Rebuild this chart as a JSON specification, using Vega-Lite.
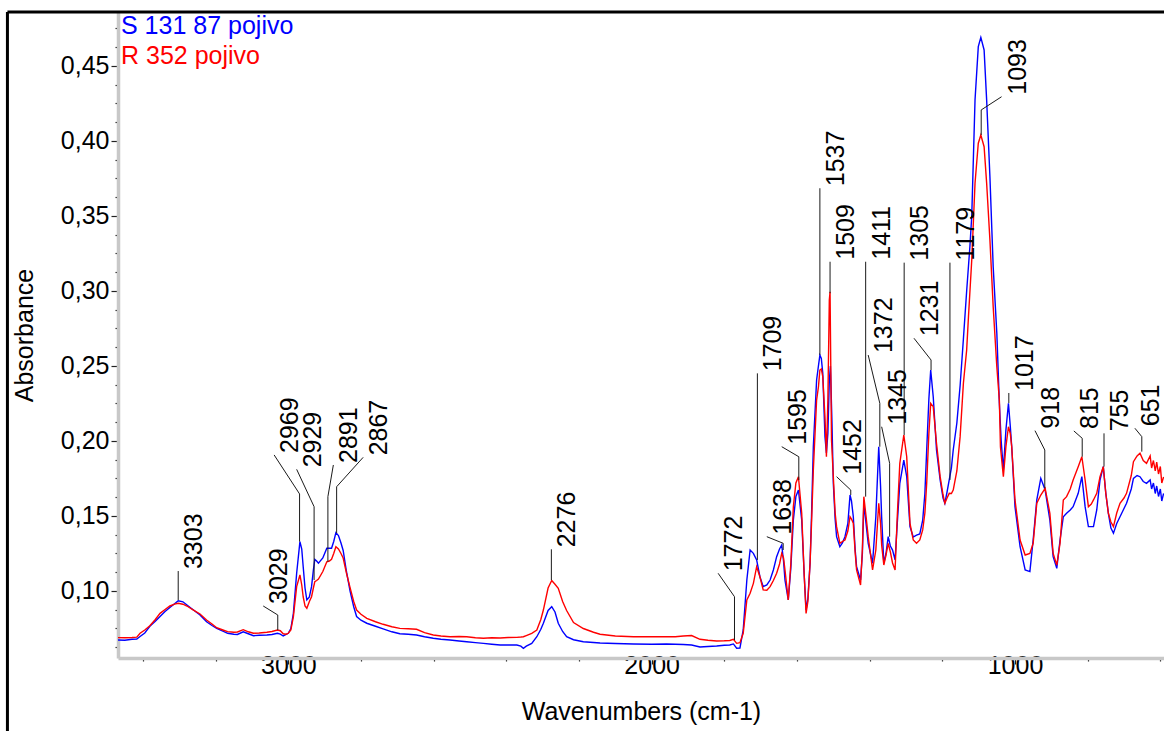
{
"$schema": "https://vega.github.io/schema/vega-lite/v6.json",
"width": 1046, "height": 646,
"autosize": {"type": "none"},
"padding": {"left": 118, "top": 12, "right": 0, "bottom": 73},
"background": "white",
"config": {"view": {"stroke": null}, "font": "Liberation Sans"},
"datasets": {
"blue": [
{"series":"S 131 87 pojivo","wn":3469,"abs":0.0673},{"series":"S 131 87 pojivo","wn":3450,"abs":0.0672},{"series":"S 131 87 pojivo","wn":3430,"abs":0.0678},{"series":"S 131 87 pojivo","wn":3417,"abs":0.068},{"series":"S 131 87 pojivo","wn":3408,"abs":0.0697},{"series":"S 131 87 pojivo","wn":3395,"abs":0.072},{"series":"S 131 87 pojivo","wn":3381,"abs":0.0765},{"series":"S 131 87 pojivo","wn":3366,"abs":0.0798},{"series":"S 131 87 pojivo","wn":3353,"abs":0.083},{"series":"S 131 87 pojivo","wn":3340,"abs":0.0862},{"series":"S 131 87 pojivo","wn":3326,"abs":0.089},{"series":"S 131 87 pojivo","wn":3313,"abs":0.0915},{"series":"S 131 87 pojivo","wn":3303,"abs":0.0935},{"series":"S 131 87 pojivo","wn":3290,"abs":0.0928},{"series":"S 131 87 pojivo","wn":3279,"abs":0.0907},{"series":"S 131 87 pojivo","wn":3261,"abs":0.0873},{"series":"S 131 87 pojivo","wn":3243,"abs":0.084},{"series":"S 131 87 pojivo","wn":3225,"abs":0.0795},{"series":"S 131 87 pojivo","wn":3210,"abs":0.077},{"series":"S 131 87 pojivo","wn":3197,"abs":0.0751},{"series":"S 131 87 pojivo","wn":3180,"abs":0.0732},{"series":"S 131 87 pojivo","wn":3167,"abs":0.0718},{"series":"S 131 87 pojivo","wn":3150,"abs":0.0712},{"series":"S 131 87 pojivo","wn":3140,"abs":0.071},{"series":"S 131 87 pojivo","wn":3124,"abs":0.0728},{"series":"S 131 87 pojivo","wn":3110,"abs":0.0715},{"series":"S 131 87 pojivo","wn":3096,"abs":0.0702},{"series":"S 131 87 pojivo","wn":3080,"abs":0.0705},{"series":"S 131 87 pojivo","wn":3059,"abs":0.0707},{"series":"S 131 87 pojivo","wn":3045,"abs":0.071},{"series":"S 131 87 pojivo","wn":3030,"abs":0.0718},{"series":"S 131 87 pojivo","wn":3022,"abs":0.0712},{"series":"S 131 87 pojivo","wn":3014,"abs":0.07},{"series":"S 131 87 pojivo","wn":3006,"abs":0.071},{"series":"S 131 87 pojivo","wn":3000,"abs":0.0718},{"series":"S 131 87 pojivo","wn":2993,"abs":0.075},{"series":"S 131 87 pojivo","wn":2986,"abs":0.0851},{"series":"S 131 87 pojivo","wn":2977,"abs":0.1118},{"series":"S 131 87 pojivo","wn":2968,"abs":0.1329},{"series":"S 131 87 pojivo","wn":2963,"abs":0.128},{"series":"S 131 87 pojivo","wn":2959,"abs":0.1162},{"series":"S 131 87 pojivo","wn":2954,"abs":0.102},{"series":"S 131 87 pojivo","wn":2949,"abs":0.094},{"series":"S 131 87 pojivo","wn":2942,"abs":0.096},{"series":"S 131 87 pojivo","wn":2936,"abs":0.1029},{"series":"S 131 87 pojivo","wn":2931,"abs":0.114},{"series":"S 131 87 pojivo","wn":2927,"abs":0.1211},{"series":"S 131 87 pojivo","wn":2922,"abs":0.12},{"series":"S 131 87 pojivo","wn":2917,"abs":0.1185},{"series":"S 131 87 pojivo","wn":2905,"abs":0.122},{"series":"S 131 87 pojivo","wn":2894,"abs":0.1285},{"series":"S 131 87 pojivo","wn":2887,"abs":0.1285},{"series":"S 131 87 pojivo","wn":2881,"abs":0.1285},{"series":"S 131 87 pojivo","wn":2875,"abs":0.133},{"series":"S 131 87 pojivo","wn":2869,"abs":0.1389},{"series":"S 131 87 pojivo","wn":2862,"abs":0.137},{"series":"S 131 87 pojivo","wn":2855,"abs":0.132},{"series":"S 131 87 pojivo","wn":2849,"abs":0.127},{"series":"S 131 87 pojivo","wn":2840,"abs":0.113},{"series":"S 131 87 pojivo","wn":2830,"abs":0.1},{"series":"S 131 87 pojivo","wn":2820,"abs":0.0895},{"series":"S 131 87 pojivo","wn":2812,"abs":0.083},{"series":"S 131 87 pojivo","wn":2800,"abs":0.0805},{"series":"S 131 87 pojivo","wn":2784,"abs":0.0785},{"series":"S 131 87 pojivo","wn":2760,"abs":0.0765},{"series":"S 131 87 pojivo","wn":2739,"abs":0.0748},{"series":"S 131 87 pojivo","wn":2715,"abs":0.0728},{"series":"S 131 87 pojivo","wn":2693,"abs":0.0715},{"series":"S 131 87 pojivo","wn":2670,"abs":0.0712},{"series":"S 131 87 pojivo","wn":2647,"abs":0.0707},{"series":"S 131 87 pojivo","wn":2625,"abs":0.0695},{"series":"S 131 87 pojivo","wn":2601,"abs":0.0685},{"series":"S 131 87 pojivo","wn":2580,"abs":0.0678},{"series":"S 131 87 pojivo","wn":2555,"abs":0.0673},{"series":"S 131 87 pojivo","wn":2530,"abs":0.0667},{"series":"S 131 87 pojivo","wn":2509,"abs":0.0662},{"series":"S 131 87 pojivo","wn":2485,"abs":0.0656},{"series":"S 131 87 pojivo","wn":2463,"abs":0.0651},{"series":"S 131 87 pojivo","wn":2440,"abs":0.0645},{"series":"S 131 87 pojivo","wn":2417,"abs":0.064},{"series":"S 131 87 pojivo","wn":2395,"abs":0.064},{"series":"S 131 87 pojivo","wn":2371,"abs":0.064},{"series":"S 131 87 pojivo","wn":2360,"abs":0.0632},{"series":"S 131 87 pojivo","wn":2353,"abs":0.0618},{"series":"S 131 87 pojivo","wn":2345,"abs":0.0632},{"series":"S 131 87 pojivo","wn":2330,"abs":0.065},{"series":"S 131 87 pojivo","wn":2316,"abs":0.0695},{"series":"S 131 87 pojivo","wn":2305,"abs":0.0745},{"series":"S 131 87 pojivo","wn":2298,"abs":0.0785},{"series":"S 131 87 pojivo","wn":2285,"abs":0.087},{"series":"S 131 87 pojivo","wn":2275,"abs":0.0895},{"series":"S 131 87 pojivo","wn":2266,"abs":0.086},{"series":"S 131 87 pojivo","wn":2257,"abs":0.0785},{"series":"S 131 87 pojivo","wn":2245,"abs":0.073},{"series":"S 131 87 pojivo","wn":2234,"abs":0.0695},{"series":"S 131 87 pojivo","wn":2215,"abs":0.0675},{"series":"S 131 87 pojivo","wn":2188,"abs":0.0662},{"series":"S 131 87 pojivo","wn":2160,"abs":0.0657},{"series":"S 131 87 pojivo","wn":2142,"abs":0.0653},{"series":"S 131 87 pojivo","wn":2100,"abs":0.065},{"series":"S 131 87 pojivo","wn":2050,"abs":0.0647},{"series":"S 131 87 pojivo","wn":2000,"abs":0.0645},{"series":"S 131 87 pojivo","wn":1959,"abs":0.0647},{"series":"S 131 87 pojivo","wn":1935,"abs":0.0645},{"series":"S 131 87 pojivo","wn":1913,"abs":0.0643},{"series":"S 131 87 pojivo","wn":1890,"abs":0.064},{"series":"S 131 87 pojivo","wn":1867,"abs":0.0627},{"series":"S 131 87 pojivo","wn":1845,"abs":0.063},{"series":"S 131 87 pojivo","wn":1821,"abs":0.0633},{"series":"S 131 87 pojivo","wn":1800,"abs":0.0638},{"series":"S 131 87 pojivo","wn":1785,"abs":0.064},{"series":"S 131 87 pojivo","wn":1775,"abs":0.0647},{"series":"S 131 87 pojivo","wn":1766,"abs":0.0618},{"series":"S 131 87 pojivo","wn":1757,"abs":0.062},{"series":"S 131 87 pojivo","wn":1748,"abs":0.074},{"series":"S 131 87 pojivo","wn":1738,"abs":0.1073},{"series":"S 131 87 pojivo","wn":1729,"abs":0.1273},{"series":"S 131 87 pojivo","wn":1720,"abs":0.1251},{"series":"S 131 87 pojivo","wn":1711,"abs":0.1207},{"series":"S 131 87 pojivo","wn":1702,"abs":0.1095},{"series":"S 131 87 pojivo","wn":1693,"abs":0.1029},{"series":"S 131 87 pojivo","wn":1683,"abs":0.104},{"series":"S 131 87 pojivo","wn":1674,"abs":0.1073},{"series":"S 131 87 pojivo","wn":1665,"abs":0.114},{"series":"S 131 87 pojivo","wn":1656,"abs":0.1229},{"series":"S 131 87 pojivo","wn":1648,"abs":0.128},{"series":"S 131 87 pojivo","wn":1642,"abs":0.1307},{"series":"S 131 87 pojivo","wn":1637,"abs":0.12},{"series":"S 131 87 pojivo","wn":1633,"abs":0.1073},{"series":"S 131 87 pojivo","wn":1624,"abs":0.094},{"series":"S 131 87 pojivo","wn":1617,"abs":0.115},{"series":"S 131 87 pojivo","wn":1610,"abs":0.1473},{"series":"S 131 87 pojivo","wn":1603,"abs":0.163},{"series":"S 131 87 pojivo","wn":1596,"abs":0.1673},{"series":"S 131 87 pojivo","wn":1587,"abs":0.1473},{"series":"S 131 87 pojivo","wn":1580,"abs":0.11},{"series":"S 131 87 pojivo","wn":1575,"abs":0.0873},{"series":"S 131 87 pojivo","wn":1570,"abs":0.095},{"series":"S 131 87 pojivo","wn":1564,"abs":0.1185},{"series":"S 131 87 pojivo","wn":1560,"abs":0.15},{"series":"S 131 87 pojivo","wn":1555,"abs":0.1962},{"series":"S 131 87 pojivo","wn":1546,"abs":0.2407},{"series":"S 131 87 pojivo","wn":1541,"abs":0.25},{"series":"S 131 87 pojivo","wn":1537,"abs":0.2573},{"series":"S 131 87 pojivo","wn":1533,"abs":0.255},{"series":"S 131 87 pojivo","wn":1529,"abs":0.2451},{"series":"S 131 87 pojivo","wn":1523,"abs":0.2029},{"series":"S 131 87 pojivo","wn":1519,"abs":0.192},{"series":"S 131 87 pojivo","wn":1515,"abs":0.205},{"series":"S 131 87 pojivo","wn":1511,"abs":0.24},{"series":"S 131 87 pojivo","wn":1508,"abs":0.25},{"series":"S 131 87 pojivo","wn":1504,"abs":0.215},{"series":"S 131 87 pojivo","wn":1500,"abs":0.1718},{"series":"S 131 87 pojivo","wn":1495,"abs":0.148},{"series":"S 131 87 pojivo","wn":1491,"abs":0.1362},{"series":"S 131 87 pojivo","wn":1482,"abs":0.1295},{"series":"S 131 87 pojivo","wn":1475,"abs":0.132},{"series":"S 131 87 pojivo","wn":1468,"abs":0.1362},{"series":"S 131 87 pojivo","wn":1460,"abs":0.145},{"series":"S 131 87 pojivo","wn":1454,"abs":0.164},{"series":"S 131 87 pojivo","wn":1450,"abs":0.16},{"series":"S 131 87 pojivo","wn":1445,"abs":0.1495},{"series":"S 131 87 pojivo","wn":1440,"abs":0.128},{"series":"S 131 87 pojivo","wn":1436,"abs":0.1162},{"series":"S 131 87 pojivo","wn":1425,"abs":0.1073},{"series":"S 131 87 pojivo","wn":1420,"abs":0.125},{"series":"S 131 87 pojivo","wn":1416,"abs":0.1585},{"series":"S 131 87 pojivo","wn":1410,"abs":0.145},{"series":"S 131 87 pojivo","wn":1404,"abs":0.1318},{"series":"S 131 87 pojivo","wn":1392,"abs":0.1185},{"series":"S 131 87 pojivo","wn":1383,"abs":0.1495},{"series":"S 131 87 pojivo","wn":1375,"abs":0.1962},{"series":"S 131 87 pojivo","wn":1370,"abs":0.17},{"series":"S 131 87 pojivo","wn":1367,"abs":0.1495},{"series":"S 131 87 pojivo","wn":1361,"abs":0.1185},{"series":"S 131 87 pojivo","wn":1355,"abs":0.125},{"series":"S 131 87 pojivo","wn":1349,"abs":0.1362},{"series":"S 131 87 pojivo","wn":1343,"abs":0.13},{"series":"S 131 87 pojivo","wn":1337,"abs":0.1273},{"series":"S 131 87 pojivo","wn":1330,"abs":0.1207},{"series":"S 131 87 pojivo","wn":1324,"abs":0.145},{"series":"S 131 87 pojivo","wn":1317,"abs":0.1718},{"series":"S 131 87 pojivo","wn":1306,"abs":0.1873},{"series":"S 131 87 pojivo","wn":1298,"abs":0.1762},{"series":"S 131 87 pojivo","wn":1289,"abs":0.1429},{"series":"S 131 87 pojivo","wn":1280,"abs":0.136},{"series":"S 131 87 pojivo","wn":1271,"abs":0.1373},{"series":"S 131 87 pojivo","wn":1262,"abs":0.138},{"series":"S 131 87 pojivo","wn":1254,"abs":0.1473},{"series":"S 131 87 pojivo","wn":1248,"abs":0.165},{"series":"S 131 87 pojivo","wn":1243,"abs":0.194},{"series":"S 131 87 pojivo","wn":1237,"abs":0.228},{"series":"S 131 87 pojivo","wn":1232,"abs":0.2473},{"series":"S 131 87 pojivo","wn":1225,"abs":0.2295},{"series":"S 131 87 pojivo","wn":1216,"abs":0.194},{"series":"S 131 87 pojivo","wn":1206,"abs":0.174},{"series":"S 131 87 pojivo","wn":1198,"abs":0.162},{"series":"S 131 87 pojivo","wn":1193,"abs":0.1585},{"series":"S 131 87 pojivo","wn":1187,"abs":0.166},{"series":"S 131 87 pojivo","wn":1181,"abs":0.174},{"series":"S 131 87 pojivo","wn":1175,"abs":0.182},{"series":"S 131 87 pojivo","wn":1170,"abs":0.194},{"series":"S 131 87 pojivo","wn":1160,"abs":0.212},{"series":"S 131 87 pojivo","wn":1151,"abs":0.237},{"series":"S 131 87 pojivo","wn":1142,"abs":0.268},{"series":"S 131 87 pojivo","wn":1133,"abs":0.3},{"series":"S 131 87 pojivo","wn":1124,"abs":0.33},{"series":"S 131 87 pojivo","wn":1119,"abs":0.35},{"series":"S 131 87 pojivo","wn":1110,"abs":0.4273},{"series":"S 131 87 pojivo","wn":1101,"abs":0.4629},{"series":"S 131 87 pojivo","wn":1094,"abs":0.4691},{"series":"S 131 87 pojivo","wn":1085,"abs":0.4607},{"series":"S 131 87 pojivo","wn":1078,"abs":0.4273},{"series":"S 131 87 pojivo","wn":1069,"abs":0.3762},{"series":"S 131 87 pojivo","wn":1060,"abs":0.3162},{"series":"S 131 87 pojivo","wn":1050,"abs":0.2718},{"series":"S 131 87 pojivo","wn":1043,"abs":0.225},{"series":"S 131 87 pojivo","wn":1038,"abs":0.2},{"series":"S 131 87 pojivo","wn":1032,"abs":0.1807},{"series":"S 131 87 pojivo","wn":1025,"abs":0.2073},{"series":"S 131 87 pojivo","wn":1018,"abs":0.2251},{"series":"S 131 87 pojivo","wn":1013,"abs":0.21},{"series":"S 131 87 pojivo","wn":1009,"abs":0.1962},{"series":"S 131 87 pojivo","wn":1000,"abs":0.1562},{"series":"S 131 87 pojivo","wn":986,"abs":0.1295},{"series":"S 131 87 pojivo","wn":972,"abs":0.114},{"series":"S 131 87 pojivo","wn":959,"abs":0.1129},{"series":"S 131 87 pojivo","wn":950,"abs":0.134},{"series":"S 131 87 pojivo","wn":940,"abs":0.1607},{"series":"S 131 87 pojivo","wn":929,"abs":0.1751},{"series":"S 131 87 pojivo","wn":917,"abs":0.1673},{"series":"S 131 87 pojivo","wn":904,"abs":0.1473},{"series":"S 131 87 pojivo","wn":895,"abs":0.1229},{"series":"S 131 87 pojivo","wn":885,"abs":0.1151},{"series":"S 131 87 pojivo","wn":876,"abs":0.134},{"series":"S 131 87 pojivo","wn":867,"abs":0.1495},{"series":"S 131 87 pojivo","wn":858,"abs":0.1518},{"series":"S 131 87 pojivo","wn":848,"abs":0.154},{"series":"S 131 87 pojivo","wn":840,"abs":0.1562},{"series":"S 131 87 pojivo","wn":826,"abs":0.1651},{"series":"S 131 87 pojivo","wn":816,"abs":0.1762},{"series":"S 131 87 pojivo","wn":807,"abs":0.1562},{"series":"S 131 87 pojivo","wn":798,"abs":0.1429},{"series":"S 131 87 pojivo","wn":784,"abs":0.1429},{"series":"S 131 87 pojivo","wn":775,"abs":0.154},{"series":"S 131 87 pojivo","wn":766,"abs":0.174},{"series":"S 131 87 pojivo","wn":757,"abs":0.1829},{"series":"S 131 87 pojivo","wn":750,"abs":0.165},{"series":"S 131 87 pojivo","wn":743,"abs":0.1518},{"series":"S 131 87 pojivo","wn":736,"abs":0.142},{"series":"S 131 87 pojivo","wn":729,"abs":0.1385},{"series":"S 131 87 pojivo","wn":720,"abs":0.145},{"series":"S 131 87 pojivo","wn":711,"abs":0.1495},{"series":"S 131 87 pojivo","wn":700,"abs":0.155},{"series":"S 131 87 pojivo","wn":693,"abs":0.1585},{"series":"S 131 87 pojivo","wn":680,"abs":0.168},{"series":"S 131 87 pojivo","wn":674,"abs":0.1751},{"series":"S 131 87 pojivo","wn":664,"abs":0.177},{"series":"S 131 87 pojivo","wn":656,"abs":0.1762},{"series":"S 131 87 pojivo","wn":647,"abs":0.173},{"series":"S 131 87 pojivo","wn":638,"abs":0.1718},{"series":"S 131 87 pojivo","wn":628,"abs":0.174},{"series":"S 131 87 pojivo","wn":624,"abs":0.168},{"series":"S 131 87 pojivo","wn":619,"abs":0.172},{"series":"S 131 87 pojivo","wn":614,"abs":0.165},{"series":"S 131 87 pojivo","wn":610,"abs":0.17},{"series":"S 131 87 pojivo","wn":605,"abs":0.163},{"series":"S 131 87 pojivo","wn":600,"abs":0.168},{"series":"S 131 87 pojivo","wn":596,"abs":0.16},{"series":"S 131 87 pojivo","wn":591,"abs":0.165}
],
"red": [
{"series":"R 352 pojivo","wn":3469,"abs":0.0689},{"series":"R 352 pojivo","wn":3450,"abs":0.0688},{"series":"R 352 pojivo","wn":3430,"abs":0.069},{"series":"R 352 pojivo","wn":3417,"abs":0.0692},{"series":"R 352 pojivo","wn":3408,"abs":0.0718},{"series":"R 352 pojivo","wn":3395,"abs":0.074},{"series":"R 352 pojivo","wn":3381,"abs":0.0768},{"series":"R 352 pojivo","wn":3366,"abs":0.081},{"series":"R 352 pojivo","wn":3353,"abs":0.0851},{"series":"R 352 pojivo","wn":3340,"abs":0.0875},{"series":"R 352 pojivo","wn":3326,"abs":0.09},{"series":"R 352 pojivo","wn":3313,"abs":0.0912},{"series":"R 352 pojivo","wn":3303,"abs":0.0918},{"series":"R 352 pojivo","wn":3290,"abs":0.0912},{"series":"R 352 pojivo","wn":3279,"abs":0.09},{"series":"R 352 pojivo","wn":3261,"abs":0.0873},{"series":"R 352 pojivo","wn":3243,"abs":0.0847},{"series":"R 352 pojivo","wn":3225,"abs":0.0807},{"series":"R 352 pojivo","wn":3210,"abs":0.078},{"series":"R 352 pojivo","wn":3197,"abs":0.0755},{"series":"R 352 pojivo","wn":3180,"abs":0.074},{"series":"R 352 pojivo","wn":3167,"abs":0.0729},{"series":"R 352 pojivo","wn":3150,"abs":0.0725},{"series":"R 352 pojivo","wn":3140,"abs":0.0727},{"series":"R 352 pojivo","wn":3124,"abs":0.0742},{"series":"R 352 pojivo","wn":3110,"abs":0.0728},{"series":"R 352 pojivo","wn":3096,"abs":0.0718},{"series":"R 352 pojivo","wn":3080,"abs":0.072},{"series":"R 352 pojivo","wn":3059,"abs":0.0725},{"series":"R 352 pojivo","wn":3045,"abs":0.073},{"series":"R 352 pojivo","wn":3030,"abs":0.074},{"series":"R 352 pojivo","wn":3022,"abs":0.0735},{"series":"R 352 pojivo","wn":3014,"abs":0.0715},{"series":"R 352 pojivo","wn":3006,"abs":0.0712},{"series":"R 352 pojivo","wn":3000,"abs":0.0718},{"series":"R 352 pojivo","wn":2993,"abs":0.074},{"series":"R 352 pojivo","wn":2986,"abs":0.0829},{"series":"R 352 pojivo","wn":2977,"abs":0.1029},{"series":"R 352 pojivo","wn":2968,"abs":0.1107},{"series":"R 352 pojivo","wn":2963,"abs":0.104},{"series":"R 352 pojivo","wn":2959,"abs":0.096},{"series":"R 352 pojivo","wn":2954,"abs":0.09},{"series":"R 352 pojivo","wn":2949,"abs":0.0885},{"series":"R 352 pojivo","wn":2942,"abs":0.093},{"series":"R 352 pojivo","wn":2936,"abs":0.0962},{"series":"R 352 pojivo","wn":2931,"abs":0.102},{"series":"R 352 pojivo","wn":2927,"abs":0.1062},{"series":"R 352 pojivo","wn":2922,"abs":0.107},{"series":"R 352 pojivo","wn":2917,"abs":0.108},{"series":"R 352 pojivo","wn":2905,"abs":0.113},{"series":"R 352 pojivo","wn":2894,"abs":0.1195},{"series":"R 352 pojivo","wn":2887,"abs":0.12},{"series":"R 352 pojivo","wn":2881,"abs":0.1211},{"series":"R 352 pojivo","wn":2875,"abs":0.125},{"series":"R 352 pojivo","wn":2869,"abs":0.1295},{"series":"R 352 pojivo","wn":2862,"abs":0.128},{"series":"R 352 pojivo","wn":2855,"abs":0.125},{"series":"R 352 pojivo","wn":2849,"abs":0.122},{"series":"R 352 pojivo","wn":2840,"abs":0.112},{"series":"R 352 pojivo","wn":2830,"abs":0.1023},{"series":"R 352 pojivo","wn":2820,"abs":0.093},{"series":"R 352 pojivo","wn":2812,"abs":0.0873},{"series":"R 352 pojivo","wn":2800,"abs":0.0845},{"series":"R 352 pojivo","wn":2784,"abs":0.0818},{"series":"R 352 pojivo","wn":2760,"abs":0.0795},{"series":"R 352 pojivo","wn":2739,"abs":0.0778},{"series":"R 352 pojivo","wn":2715,"abs":0.0762},{"series":"R 352 pojivo","wn":2693,"abs":0.0751},{"series":"R 352 pojivo","wn":2670,"abs":0.0748},{"series":"R 352 pojivo","wn":2647,"abs":0.0745},{"series":"R 352 pojivo","wn":2625,"abs":0.0722},{"series":"R 352 pojivo","wn":2601,"abs":0.0707},{"series":"R 352 pojivo","wn":2580,"abs":0.07},{"series":"R 352 pojivo","wn":2555,"abs":0.0695},{"series":"R 352 pojivo","wn":2530,"abs":0.0697},{"series":"R 352 pojivo","wn":2509,"abs":0.0695},{"series":"R 352 pojivo","wn":2485,"abs":0.0688},{"series":"R 352 pojivo","wn":2463,"abs":0.0685},{"series":"R 352 pojivo","wn":2440,"abs":0.0688},{"series":"R 352 pojivo","wn":2417,"abs":0.0687},{"series":"R 352 pojivo","wn":2395,"abs":0.069},{"series":"R 352 pojivo","wn":2371,"abs":0.0691},{"series":"R 352 pojivo","wn":2360,"abs":0.0693},{"series":"R 352 pojivo","wn":2353,"abs":0.0695},{"series":"R 352 pojivo","wn":2345,"abs":0.0703},{"series":"R 352 pojivo","wn":2330,"abs":0.0718},{"series":"R 352 pojivo","wn":2316,"abs":0.074},{"series":"R 352 pojivo","wn":2305,"abs":0.081},{"series":"R 352 pojivo","wn":2298,"abs":0.0873},{"series":"R 352 pojivo","wn":2285,"abs":0.102},{"series":"R 352 pojivo","wn":2275,"abs":0.107},{"series":"R 352 pojivo","wn":2266,"abs":0.1045},{"series":"R 352 pojivo","wn":2257,"abs":0.1018},{"series":"R 352 pojivo","wn":2245,"abs":0.093},{"series":"R 352 pojivo","wn":2234,"abs":0.087},{"series":"R 352 pojivo","wn":2215,"abs":0.079},{"series":"R 352 pojivo","wn":2188,"abs":0.075},{"series":"R 352 pojivo","wn":2160,"abs":0.0725},{"series":"R 352 pojivo","wn":2142,"abs":0.0712},{"series":"R 352 pojivo","wn":2100,"abs":0.07},{"series":"R 352 pojivo","wn":2050,"abs":0.0695},{"series":"R 352 pojivo","wn":2000,"abs":0.0695},{"series":"R 352 pojivo","wn":1959,"abs":0.0695},{"series":"R 352 pojivo","wn":1935,"abs":0.0695},{"series":"R 352 pojivo","wn":1913,"abs":0.07},{"series":"R 352 pojivo","wn":1890,"abs":0.0703},{"series":"R 352 pojivo","wn":1867,"abs":0.0678},{"series":"R 352 pojivo","wn":1845,"abs":0.0672},{"series":"R 352 pojivo","wn":1821,"abs":0.0667},{"series":"R 352 pojivo","wn":1800,"abs":0.0668},{"series":"R 352 pojivo","wn":1785,"abs":0.067},{"series":"R 352 pojivo","wn":1775,"abs":0.0678},{"series":"R 352 pojivo","wn":1766,"abs":0.0651},{"series":"R 352 pojivo","wn":1757,"abs":0.0655},{"series":"R 352 pojivo","wn":1748,"abs":0.0718},{"series":"R 352 pojivo","wn":1738,"abs":0.094},{"series":"R 352 pojivo","wn":1729,"abs":0.0985},{"series":"R 352 pojivo","wn":1720,"abs":0.1051},{"series":"R 352 pojivo","wn":1711,"abs":0.1162},{"series":"R 352 pojivo","wn":1702,"abs":0.1095},{"series":"R 352 pojivo","wn":1693,"abs":0.1007},{"series":"R 352 pojivo","wn":1683,"abs":0.1005},{"series":"R 352 pojivo","wn":1674,"abs":0.1029},{"series":"R 352 pojivo","wn":1665,"abs":0.107},{"series":"R 352 pojivo","wn":1656,"abs":0.1118},{"series":"R 352 pojivo","wn":1648,"abs":0.118},{"series":"R 352 pojivo","wn":1642,"abs":0.1251},{"series":"R 352 pojivo","wn":1637,"abs":0.122},{"series":"R 352 pojivo","wn":1633,"abs":0.114},{"series":"R 352 pojivo","wn":1624,"abs":0.094},{"series":"R 352 pojivo","wn":1617,"abs":0.118},{"series":"R 352 pojivo","wn":1610,"abs":0.1562},{"series":"R 352 pojivo","wn":1603,"abs":0.172},{"series":"R 352 pojivo","wn":1596,"abs":0.1762},{"series":"R 352 pojivo","wn":1587,"abs":0.1518},{"series":"R 352 pojivo","wn":1580,"abs":0.11},{"series":"R 352 pojivo","wn":1575,"abs":0.0851},{"series":"R 352 pojivo","wn":1570,"abs":0.093},{"series":"R 352 pojivo","wn":1564,"abs":0.1185},{"series":"R 352 pojivo","wn":1560,"abs":0.145},{"series":"R 352 pojivo","wn":1555,"abs":0.1807},{"series":"R 352 pojivo","wn":1546,"abs":0.2273},{"series":"R 352 pojivo","wn":1541,"abs":0.236},{"series":"R 352 pojivo","wn":1537,"abs":0.2473},{"series":"R 352 pojivo","wn":1533,"abs":0.248},{"series":"R 352 pojivo","wn":1529,"abs":0.2429},{"series":"R 352 pojivo","wn":1523,"abs":0.2162},{"series":"R 352 pojivo","wn":1519,"abs":0.1895},{"series":"R 352 pojivo","wn":1515,"abs":0.2273},{"series":"R 352 pojivo","wn":1511,"abs":0.294},{"series":"R 352 pojivo","wn":1509,"abs":0.2995},{"series":"R 352 pojivo","wn":1505,"abs":0.2007},{"series":"R 352 pojivo","wn":1500,"abs":0.1762},{"series":"R 352 pojivo","wn":1495,"abs":0.152},{"series":"R 352 pojivo","wn":1491,"abs":0.1429},{"series":"R 352 pojivo","wn":1482,"abs":0.1318},{"series":"R 352 pojivo","wn":1475,"abs":0.133},{"series":"R 352 pojivo","wn":1468,"abs":0.134},{"series":"R 352 pojivo","wn":1460,"abs":0.14},{"series":"R 352 pojivo","wn":1454,"abs":0.1495},{"series":"R 352 pojivo","wn":1450,"abs":0.148},{"series":"R 352 pojivo","wn":1445,"abs":0.1451},{"series":"R 352 pojivo","wn":1440,"abs":0.126},{"series":"R 352 pojivo","wn":1436,"abs":0.114},{"series":"R 352 pojivo","wn":1425,"abs":0.104},{"series":"R 352 pojivo","wn":1420,"abs":0.128},{"series":"R 352 pojivo","wn":1416,"abs":0.1629},{"series":"R 352 pojivo","wn":1410,"abs":0.15},{"series":"R 352 pojivo","wn":1404,"abs":0.1362},{"series":"R 352 pojivo","wn":1392,"abs":0.114},{"series":"R 352 pojivo","wn":1383,"abs":0.1273},{"series":"R 352 pojivo","wn":1375,"abs":0.1585},{"series":"R 352 pojivo","wn":1370,"abs":0.145},{"series":"R 352 pojivo","wn":1367,"abs":0.1307},{"series":"R 352 pojivo","wn":1361,"abs":0.1173},{"series":"R 352 pojivo","wn":1355,"abs":0.124},{"series":"R 352 pojivo","wn":1349,"abs":0.1318},{"series":"R 352 pojivo","wn":1343,"abs":0.126},{"series":"R 352 pojivo","wn":1337,"abs":0.1187},{"series":"R 352 pojivo","wn":1330,"abs":0.114},{"series":"R 352 pojivo","wn":1324,"abs":0.15},{"series":"R 352 pojivo","wn":1317,"abs":0.1851},{"series":"R 352 pojivo","wn":1306,"abs":0.204},{"series":"R 352 pojivo","wn":1298,"abs":0.1895},{"series":"R 352 pojivo","wn":1289,"abs":0.1451},{"series":"R 352 pojivo","wn":1280,"abs":0.134},{"series":"R 352 pojivo","wn":1271,"abs":0.1318},{"series":"R 352 pojivo","wn":1262,"abs":0.134},{"series":"R 352 pojivo","wn":1254,"abs":0.1407},{"series":"R 352 pojivo","wn":1248,"abs":0.152},{"series":"R 352 pojivo","wn":1243,"abs":0.1718},{"series":"R 352 pojivo","wn":1237,"abs":0.205},{"series":"R 352 pojivo","wn":1232,"abs":0.2251},{"series":"R 352 pojivo","wn":1225,"abs":0.2229},{"series":"R 352 pojivo","wn":1216,"abs":0.1985},{"series":"R 352 pojivo","wn":1206,"abs":0.1762},{"series":"R 352 pojivo","wn":1198,"abs":0.164},{"series":"R 352 pojivo","wn":1193,"abs":0.1585},{"series":"R 352 pojivo","wn":1187,"abs":0.162},{"series":"R 352 pojivo","wn":1181,"abs":0.1651},{"series":"R 352 pojivo","wn":1175,"abs":0.165},{"series":"R 352 pojivo","wn":1170,"abs":0.1673},{"series":"R 352 pojivo","wn":1160,"abs":0.18},{"series":"R 352 pojivo","wn":1151,"abs":0.2029},{"series":"R 352 pojivo","wn":1142,"abs":0.2385},{"series":"R 352 pojivo","wn":1133,"abs":0.2607},{"series":"R 352 pojivo","wn":1128,"abs":0.283},{"series":"R 352 pojivo","wn":1119,"abs":0.3207},{"series":"R 352 pojivo","wn":1110,"abs":0.3718},{"series":"R 352 pojivo","wn":1101,"abs":0.3985},{"series":"R 352 pojivo","wn":1094,"abs":0.404},{"series":"R 352 pojivo","wn":1085,"abs":0.3962},{"series":"R 352 pojivo","wn":1078,"abs":0.3718},{"series":"R 352 pojivo","wn":1069,"abs":0.334},{"series":"R 352 pojivo","wn":1060,"abs":0.2895},{"series":"R 352 pojivo","wn":1050,"abs":0.2495},{"series":"R 352 pojivo","wn":1043,"abs":0.227},{"series":"R 352 pojivo","wn":1040,"abs":0.196},{"series":"R 352 pojivo","wn":1032,"abs":0.1762},{"series":"R 352 pojivo","wn":1025,"abs":0.1962},{"series":"R 352 pojivo","wn":1018,"abs":0.2095},{"series":"R 352 pojivo","wn":1013,"abs":0.205},{"series":"R 352 pojivo","wn":1009,"abs":0.1962},{"series":"R 352 pojivo","wn":1000,"abs":0.1607},{"series":"R 352 pojivo","wn":986,"abs":0.134},{"series":"R 352 pojivo","wn":972,"abs":0.124},{"series":"R 352 pojivo","wn":959,"abs":0.1251},{"series":"R 352 pojivo","wn":950,"abs":0.1318},{"series":"R 352 pojivo","wn":940,"abs":0.1585},{"series":"R 352 pojivo","wn":929,"abs":0.164},{"series":"R 352 pojivo","wn":917,"abs":0.1685},{"series":"R 352 pojivo","wn":904,"abs":0.1518},{"series":"R 352 pojivo","wn":895,"abs":0.1251},{"series":"R 352 pojivo","wn":885,"abs":0.1173},{"series":"R 352 pojivo","wn":876,"abs":0.1318},{"series":"R 352 pojivo","wn":867,"abs":0.1607},{"series":"R 352 pojivo","wn":858,"abs":0.1629},{"series":"R 352 pojivo","wn":848,"abs":0.168},{"series":"R 352 pojivo","wn":840,"abs":0.174},{"series":"R 352 pojivo","wn":826,"abs":0.1829},{"series":"R 352 pojivo","wn":816,"abs":0.1895},{"series":"R 352 pojivo","wn":807,"abs":0.174},{"series":"R 352 pojivo","wn":798,"abs":0.1562},{"series":"R 352 pojivo","wn":790,"abs":0.158},{"series":"R 352 pojivo","wn":784,"abs":0.1607},{"series":"R 352 pojivo","wn":775,"abs":0.1651},{"series":"R 352 pojivo","wn":766,"abs":0.1762},{"series":"R 352 pojivo","wn":757,"abs":0.1829},{"series":"R 352 pojivo","wn":750,"abs":0.165},{"series":"R 352 pojivo","wn":743,"abs":0.1518},{"series":"R 352 pojivo","wn":736,"abs":0.146},{"series":"R 352 pojivo","wn":729,"abs":0.1429},{"series":"R 352 pojivo","wn":720,"abs":0.152},{"series":"R 352 pojivo","wn":711,"abs":0.1585},{"series":"R 352 pojivo","wn":700,"abs":0.162},{"series":"R 352 pojivo","wn":693,"abs":0.1651},{"series":"R 352 pojivo","wn":680,"abs":0.177},{"series":"R 352 pojivo","wn":674,"abs":0.1862},{"series":"R 352 pojivo","wn":664,"abs":0.19},{"series":"R 352 pojivo","wn":656,"abs":0.1918},{"series":"R 352 pojivo","wn":647,"abs":0.187},{"series":"R 352 pojivo","wn":638,"abs":0.1851},{"series":"R 352 pojivo","wn":628,"abs":0.19},{"series":"R 352 pojivo","wn":624,"abs":0.182},{"series":"R 352 pojivo","wn":619,"abs":0.187},{"series":"R 352 pojivo","wn":614,"abs":0.18},{"series":"R 352 pojivo","wn":610,"abs":0.186},{"series":"R 352 pojivo","wn":605,"abs":0.178},{"series":"R 352 pojivo","wn":600,"abs":0.183},{"series":"R 352 pojivo","wn":596,"abs":0.172},{"series":"R 352 pojivo","wn":591,"abs":0.176}
],
"peaks": [
{"label":"3303","wn":3303,"a0":0.094,"a1":0.1133,"wn2":3303,"a2":0.1133},
{"label":"3029","wn":3029,"a0":0.074,"a1":0.084,"wn2":3069,"a2":0.09},
{"label":"2969","wn":2969,"a0":0.1329,"a1":0.1647,"wn2":3039,"a2":0.1907},
{"label":"2929","wn":2929,"a0":0.1073,"a1":0.1562,"wn2":2977,"a2":0.1811},
{"label":"2891","wn":2891,"a0":0.1195,"a1":0.1629,"wn2":2876,"a2":0.184},
{"label":"2867","wn":2867,"a0":0.1385,"a1":0.1695,"wn2":2794,"a2":0.1891},
{"label":"2276","wn":2276,"a0":0.1073,"a1":0.1278,"wn2":2276,"a2":0.1278},
{"label":"1772","wn":1772,"a0":0.0673,"a1":0.0962,"wn2":1817,"a2":0.1118},
{"label":"1709","wn":1709,"a0":0.1207,"a1":0.2451,"wn2":1709,"a2":0.2451},
{"label":"1638","wn":1638,"a0":0.1273,"a1":0.1318,"wn2":1683,"a2":0.1362},
{"label":"1595","wn":1595,"a0":0.174,"a1":0.1895,"wn2":1642,"a2":0.1962},
{"label":"1537","wn":1537,"a0":0.2573,"a1":0.3685,"wn2":1537,"a2":0.3685},
{"label":"1509","wn":1509,"a0":0.2985,"a1":0.3195,"wn2":1509,"a2":0.3195},
{"label":"1452","wn":1452,"a0":0.164,"a1":0.1673,"wn2":1491,"a2":0.1762},
{"label":"1411","wn":1411,"a0":0.1629,"a1":0.3195,"wn2":1411,"a2":0.3195},
{"label":"1372","wn":1372,"a0":0.1962,"a1":0.2251,"wn2":1404,"a2":0.2573},
{"label":"1345","wn":1345,"a0":0.1362,"a1":0.1851,"wn2":1367,"a2":0.2095},
{"label":"1305","wn":1305,"a0":0.204,"a1":0.3189,"wn2":1305,"a2":0.3189},
{"label":"1231","wn":1231,"a0":0.2473,"a1":0.254,"wn2":1278,"a2":0.2685},
{"label":"1179","wn":1179,"a0":0.174,"a1":0.3189,"wn2":1179,"a2":0.3189},
{"label":"1093","wn":1093,"a0":0.404,"a1":0.4207,"wn2":1037,"a2":0.4295},
{"label":"1017","wn":1017,"a0":0.2253,"a1":0.232,"wn2":1017,"a2":0.232},
{"label":"918","wn":918,"a0":0.1685,"a1":0.194,"wn2":945,"a2":0.2069},
{"label":"815","wn":815,"a0":0.1895,"a1":0.2018,"wn2":838,"a2":0.2067},
{"label":"755","wn":755,"a0":0.1829,"a1":0.2051,"wn2":755,"a2":0.2051},
{"label":"651","wn":651,"a0":0.1929,"a1":0.2029,"wn2":670,"a2":0.2085}
],
"frame": [{"corner": "left", "wnL": 3773, "wnR": 400, "aTop": 0.486, "aBottom": 0.0}]
},
"layer": [
{
"data": {"name": "blue"},
"mark": {"type": "line", "strokeWidth": 1.4, "clip": true},
"encoding": {
"x": {"field": "wn", "type": "quantitative", "title": "Wavenumbers (cm-1)",
"scale": {"domain": [589.9, 3468.7], "reverse": true, "nice": false, "zero": false},
"axis": {"values": [3400,3200,3000,2800,2600,2400,2200,2000,1800,1600,1400,1200,1000,800,600], "tickCount": 200,
"labelExpr": "datum.value % 1000 == 0 ? '' + datum.value : ''",
"tickSize": {"condition": {"test": "datum.value % 1000 == 0", "value": 6}, "value": 3},
"tickColor": "#222", "tickWidth": 1.2, "domainColor": "#c8c8c8", "domainWidth": 3.5,
"labelFont": "Liberation Sans", "labelFontSize": 25, "labelColor": "#000", "labelPadding": -11,
"labelOverlap": false, "labelFlush": false, "grid": false,
"titleFont": "Liberation Sans", "titleFontSize": 25, "titleFontWeight": "normal", "titleColor": "#000", "titlePadding": 21}},
"y": {"field": "abs", "type": "quantitative", "title": "Absorbance",
"scale": {"domain": [0.05533, 0.486], "nice": false, "zero": false},
"axis": {"values": [0.0625,0.075,0.0875,0.1,0.1125,0.125,0.1375,0.15,0.1625,0.175,0.1875,0.2,0.2125,0.225,0.2375,0.25,0.2625,0.275,0.2875,0.3,0.3125,0.325,0.3375,0.35,0.3625,0.375,0.3875,0.4,0.4125,0.425,0.4375,0.45,0.4625,0.475], "tickCount": 200,
"labelExpr": "indexof([0.1,0.15,0.2,0.25,0.3,0.35,0.4,0.45], datum.value) >= 0 ? replace(format(datum.value, '.2f'), '.', ',') : ''",
"tickSize": {"condition": {"test": "indexof([0.1,0.15,0.2,0.25,0.3,0.35,0.4,0.45], datum.value) >= 0", "value": 7}, "value": 3},
"tickColor": "#222", "tickWidth": 1.2, "domainColor": "#c8c8c8", "domainWidth": 3.5,
"labelFont": "Liberation Sans", "labelFontSize": 25, "labelColor": "#000", "labelPadding": 2,
"labelOverlap": false, "labelFlush": false, "grid": false,
"titleFont": "Liberation Sans", "titleFontSize": 25, "titleFontWeight": "normal", "titleColor": "#000", "titlePadding": 23}},
"color": {"field": "series", "type": "nominal",
"scale": {"domain": ["S 131 87 pojivo", "R 352 pojivo"], "range": ["#0000ff", "#ff0000"]},
"legend": {"title": null, "orient": "top-left", "offset": 1, "padding": 0, "symbolSize": 0, "symbolOpacity": 0, "symbolStrokeWidth": 0,
"labelFont": "Liberation Sans", "labelFontSize": 25, "labelOffset": -23, "labelLimit": 400, "rowPadding": 4,
"encode": {"labels": {"update": {"fill": {"scale": "color", "field": "value"}}}}}}
}
},
{
"data": {"name": "red"},
"mark": {"type": "line", "strokeWidth": 1.4, "clip": true},
"encoding": {
"x": {"field": "wn", "type": "quantitative", "title": "Wavenumbers (cm-1)"},
"y": {"field": "abs", "type": "quantitative", "title": "Absorbance"},
"color": {"field": "series", "type": "nominal"}
}
},
{
"data": {"name": "peaks"},
"mark": {"type": "rule", "color": "#1a1a1a", "strokeWidth": 1},
"encoding": {
"x": {"field": "wn", "type": "quantitative", "title": "Wavenumbers (cm-1)"},
"y": {"field": "a0", "type": "quantitative", "title": "Absorbance"},
"y2": {"field": "a1"}
}
},
{
"data": {"name": "peaks"},
"mark": {"type": "rule", "color": "#1a1a1a", "strokeWidth": 1},
"encoding": {
"x": {"field": "wn", "type": "quantitative", "title": "Wavenumbers (cm-1)"},
"y": {"field": "a1", "type": "quantitative", "title": "Absorbance"},
"x2": {"field": "wn2"},
"y2": {"field": "a2"}
}
},
{
"data": {"name": "peaks"},
"mark": {"type": "text", "angle": 270, "align": "left", "baseline": "top", "dx": 2, "dy": 4, "font": "Liberation Sans", "fontSize": 25, "color": "#000"},
"encoding": {
"x": {"field": "wn2", "type": "quantitative", "title": "Wavenumbers (cm-1)"},
"y": {"field": "a2", "type": "quantitative", "title": "Absorbance"},
"text": {"field": "label", "type": "nominal"}
}
},
{
"data": {"name": "frame"},
"mark": {"type": "rule", "clip": false, "color": "#000", "strokeWidth": 3},
"encoding": {
"x": {"field": "wnL", "type": "quantitative", "title": "Wavenumbers (cm-1)"},
"y": {"field": "aTop", "type": "quantitative", "title": "Absorbance"},
"y2": {"field": "aBottom"}
}
},
{
"data": {"name": "frame"},
"mark": {"type": "rule", "clip": false, "color": "#000", "strokeWidth": 3},
"encoding": {
"x": {"field": "wnL", "type": "quantitative", "title": "Wavenumbers (cm-1)"},
"x2": {"field": "wnR"},
"y": {"field": "aTop", "type": "quantitative", "title": "Absorbance"}
}
}
]
}
